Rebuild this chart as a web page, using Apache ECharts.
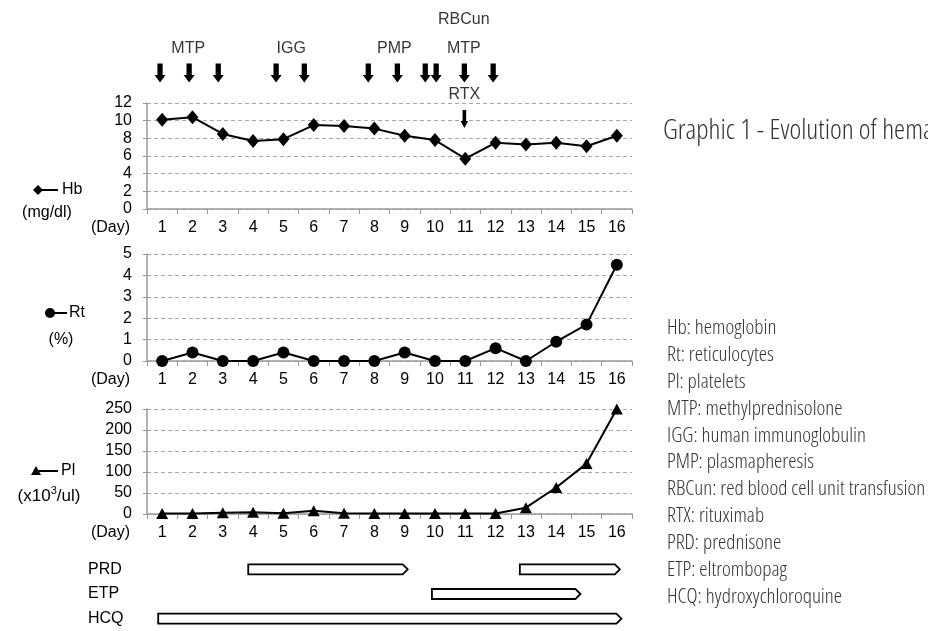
<!DOCTYPE html>
<html><head><meta charset="utf-8">
<script src="https://cdn.jsdelivr.net/npm/echarts@6/dist/echarts.min.js"></script>
<style>html,body{margin:0;padding:0;background:#fff}#c{width:928px;height:631px}</style>
</head><body><div id="c"></div>
<script>
// ---- data ----
const days = ['1','2','3','4','5','6','7','8','9','10','11','12','13','14','15','16'];
const hb = [10.1,10.4,8.5,7.7,7.9,9.5,9.4,9.1,8.3,7.8,5.7,7.5,7.3,7.5,7.1,8.3];
const rt = [0,0.4,0,0,0.4,0,0,0,0.4,0,0,0.6,0,0.9,1.7,4.5];
const pl = [1,1,3,4,2,8,2,1,1,1,1,1,15,63,120,250];
// treatment arrows (day position on the timeline)
const bigArrowDays = [0.93,1.89,2.85,4.76,5.69,7.80,8.76,9.68,10.04,10.97,11.92];
const smallArrowDays = [10.97];
const annotationText = ['RBCun','MTP','IGG','PMP','MTP','RTX'];
const annotationDays = [10.95,1.86,5.26,8.66,10.95,10.97];
const annotationRow = [20,49,49,49,49,95];
// treatment periods
const treatmentNames = ['PRD','ETP','HCQ'];
const treatmentStart = [3.84,12.8,9.9,0.87];
const treatmentEnd = [9.1,16.1,14.8,16.15];
const treatmentRow = ['PRD','PRD','ETP','HCQ'];
const glossary = ['Hb: hemoglobin','Rt: reticulocytes','Pl: platelets','MTP: methylprednisolone','IGG: human immunoglobulin','PMP: plasmapheresis','RBCun: red blood cell unit transfusion','RTX: rituximab','PRD: prednisone','ETP: eltrombopag','HCQ: hydroxychloroquine'];
const title = 'Graphic 1 - Evolution of hematological parameters';

// ---- chart ----
const FONT = '"Liberation Sans", Arial, sans-serif';
const GRAY = '#9a9a9a';
const L = 147, W = 485;
const chart = echarts.init(document.getElementById('c'), null, {renderer:'canvas'});

function catX(gi){
  return {type:'category', gridIndex:gi, data:days, boundaryGap:true,
    axisLine:{show:true, lineStyle:{color:GRAY, width:1.5}},
    axisTick:{show:true, interval:0, length:5, lineStyle:{color:GRAY}},
    axisLabel:{show:true, interval:0, margin:11, color:'#000', fontSize:16, fontFamily:FONT},
    name:'(Day)', nameLocation:'start', nameGap:17,
    nameTextStyle:{color:'#000', fontSize:16, fontFamily:FONT, verticalAlign:'top', align:'right', padding:[11,0,0,0]},
    splitLine:{show:false}};
}
function valY(gi, max, interval){
  return {type:'value', gridIndex:gi, min:0, max:max, interval:interval,
    axisLine:{show:true, lineStyle:{color:GRAY, width:1.5}},
    axisTick:{show:true, length:4, lineStyle:{color:GRAY}},
    axisLabel:{color:'#000', fontSize:16, fontFamily:FONT, margin:15},
    splitLine:{show:true, lineStyle:{color:'#a6a6a6', type:[4,3], width:1}}};
}
const lineStyle = {color:'#000', width:2};

const arrowPath = 'path://M2.6,0L7.4,0L7.4,11L10,11L5,18L0,11L2.6,11Z';

const option = {
  animation:false,
  backgroundColor:'#fff',
  grid:[
    {left:L, width:W, top:103, height:106},
    {left:L, width:W, top:254, height:107},
    {left:L, width:W, top:409, height:105},
    {left:L, width:W, top:0, height:100},
    {left:L, width:W, top:557, height:78}
  ],
  xAxis:[
    catX(0), catX(1), catX(2),
    {type:'value', gridIndex:3, min:0.5, max:16.5, show:false},
    {type:'value', gridIndex:4, min:0.5, max:16.5, show:false}
  ],
  yAxis:[
    valY(0,12,2), valY(1,5,1), valY(2,250,50),
    {type:'value', gridIndex:3, min:0, max:100, inverse:true, show:false},
    {type:'category', gridIndex:4, data:treatmentNames, inverse:true,
      axisLine:{show:false}, axisTick:{show:false}, splitLine:{show:false},
      axisLabel:{align:'left', margin:59, color:'#000', fontSize:16, fontFamily:FONT}}
  ],
  series:[
    {type:'line', xAxisIndex:0, yAxisIndex:0, data:hb, symbol:'diamond', symbolSize:[12,14],
      itemStyle:{color:'#000'}, lineStyle:lineStyle},
    {type:'line', xAxisIndex:1, yAxisIndex:1, data:rt, symbol:'circle', symbolSize:12,
      itemStyle:{color:'#000'}, lineStyle:lineStyle},
    {type:'line', xAxisIndex:2, yAxisIndex:2, data:pl, symbol:'triangle', symbolSize:[12,11],
      itemStyle:{color:'#000'}, lineStyle:lineStyle},
    {type:'scatter', xAxisIndex:3, yAxisIndex:3, symbol:arrowPath, symbolSize:[11,19],
      itemStyle:{color:'#000', opacity:1}, data:bigArrowDays.map(d=>[d,73])},
    {type:'scatter', xAxisIndex:3, yAxisIndex:3, symbol:arrowPath, symbolSize:[7.5,18],
      itemStyle:{color:'#000', opacity:1}, data:smallArrowDays.map(d=>[d,119]), clip:false},
    {type:'scatter', xAxisIndex:3, yAxisIndex:3, symbolSize:0,
      data:annotationText.map((t,i)=>({value:[annotationDays[i],annotationRow[i]], name:t})),
      label:{show:true, position:'inside', formatter:p=>p.name, color:'#000', fontSize:16, fontFamily:FONT}},
    {type:'custom', xAxisIndex:4, yAxisIndex:4,
      data:treatmentStart.map((s,i)=>[s,treatmentEnd[i],treatmentNames.indexOf(treatmentRow[i])]),
      encode:{x:[0,1], y:2},
      renderItem:function(params, api){
        const s = api.coord([api.value(0), api.value(2)]);
        const e = api.coord([api.value(1), api.value(2)]);
        const h = 10, tip = 5;
        return {type:'polygon', shape:{points:[[s[0],s[1]-h/2],[e[0]-tip,s[1]-h/2],[e[0],s[1]],[e[0]-tip,s[1]+h/2],[s[0],s[1]+h/2]]},
          style:{fill:'#fff', stroke:'#000', lineWidth:1.8}};
      }}
  ],
  graphic:[
    // legend keys
    {type:'line', shape:{x1:38,y1:190,x2:58,y2:190}, style:{stroke:'#000', lineWidth:2}},
    {type:'polygon', shape:{points:[[38,185],[43,190],[38,195],[33,190]]}, style:{fill:'#000'}},
    {type:'text', x:62, y:190, style:{text:'Hb', font:'16px '+FONT, fill:'#000', verticalAlign:'middle'}},
    {type:'text', x:47, y:213, style:{text:'(mg/dl)', font:'16px '+FONT, fill:'#000', align:'center', verticalAlign:'middle'}},
    {type:'line', shape:{x1:50,y1:313,x2:67,y2:313}, style:{stroke:'#000', lineWidth:2}},
    {type:'circle', shape:{cx:50,cy:313,r:5}, style:{fill:'#000'}},
    {type:'text', x:69, y:313, style:{text:'Rt', font:'16px '+FONT, fill:'#000', verticalAlign:'middle'}},
    {type:'text', x:61, y:340, style:{text:'(%)', font:'16px '+FONT, fill:'#000', align:'center', verticalAlign:'middle'}},
    {type:'line', shape:{x1:36,y1:471,x2:58,y2:471}, style:{stroke:'#000', lineWidth:2}},
    {type:'polygon', shape:{points:[[36,466],[41,475],[31,475]]}, style:{fill:'#000'}},
    {type:'text', x:61, y:471, style:{text:'Pl', font:'16px '+FONT, fill:'#000', verticalAlign:'middle'}},
    {type:'text', x:49, y:496, style:{text:'(x10{s|3}/ul)', font:'17px '+FONT, fill:'#000', align:'center', verticalAlign:'middle',
      rich:{s:{fontSize:11, fontFamily:FONT, verticalAlign:'top', padding:[0,0,10,0]}}}},
    // title and glossary
    {type:'text', x:663, y:131, style:{text:title, font:'condensed 300 28px "Open Sans", sans-serif', fill:'#333', verticalAlign:'middle'}}
  ].concat(glossary.map((g,i)=>({type:'text', x:667, y:328+i*26.9,
      style:{text:g, font:'condensed 300 21px "Open Sans", sans-serif', fill:'#333', verticalAlign:'middle'}})))
};
chart.setOption(option);
</script></body></html>
